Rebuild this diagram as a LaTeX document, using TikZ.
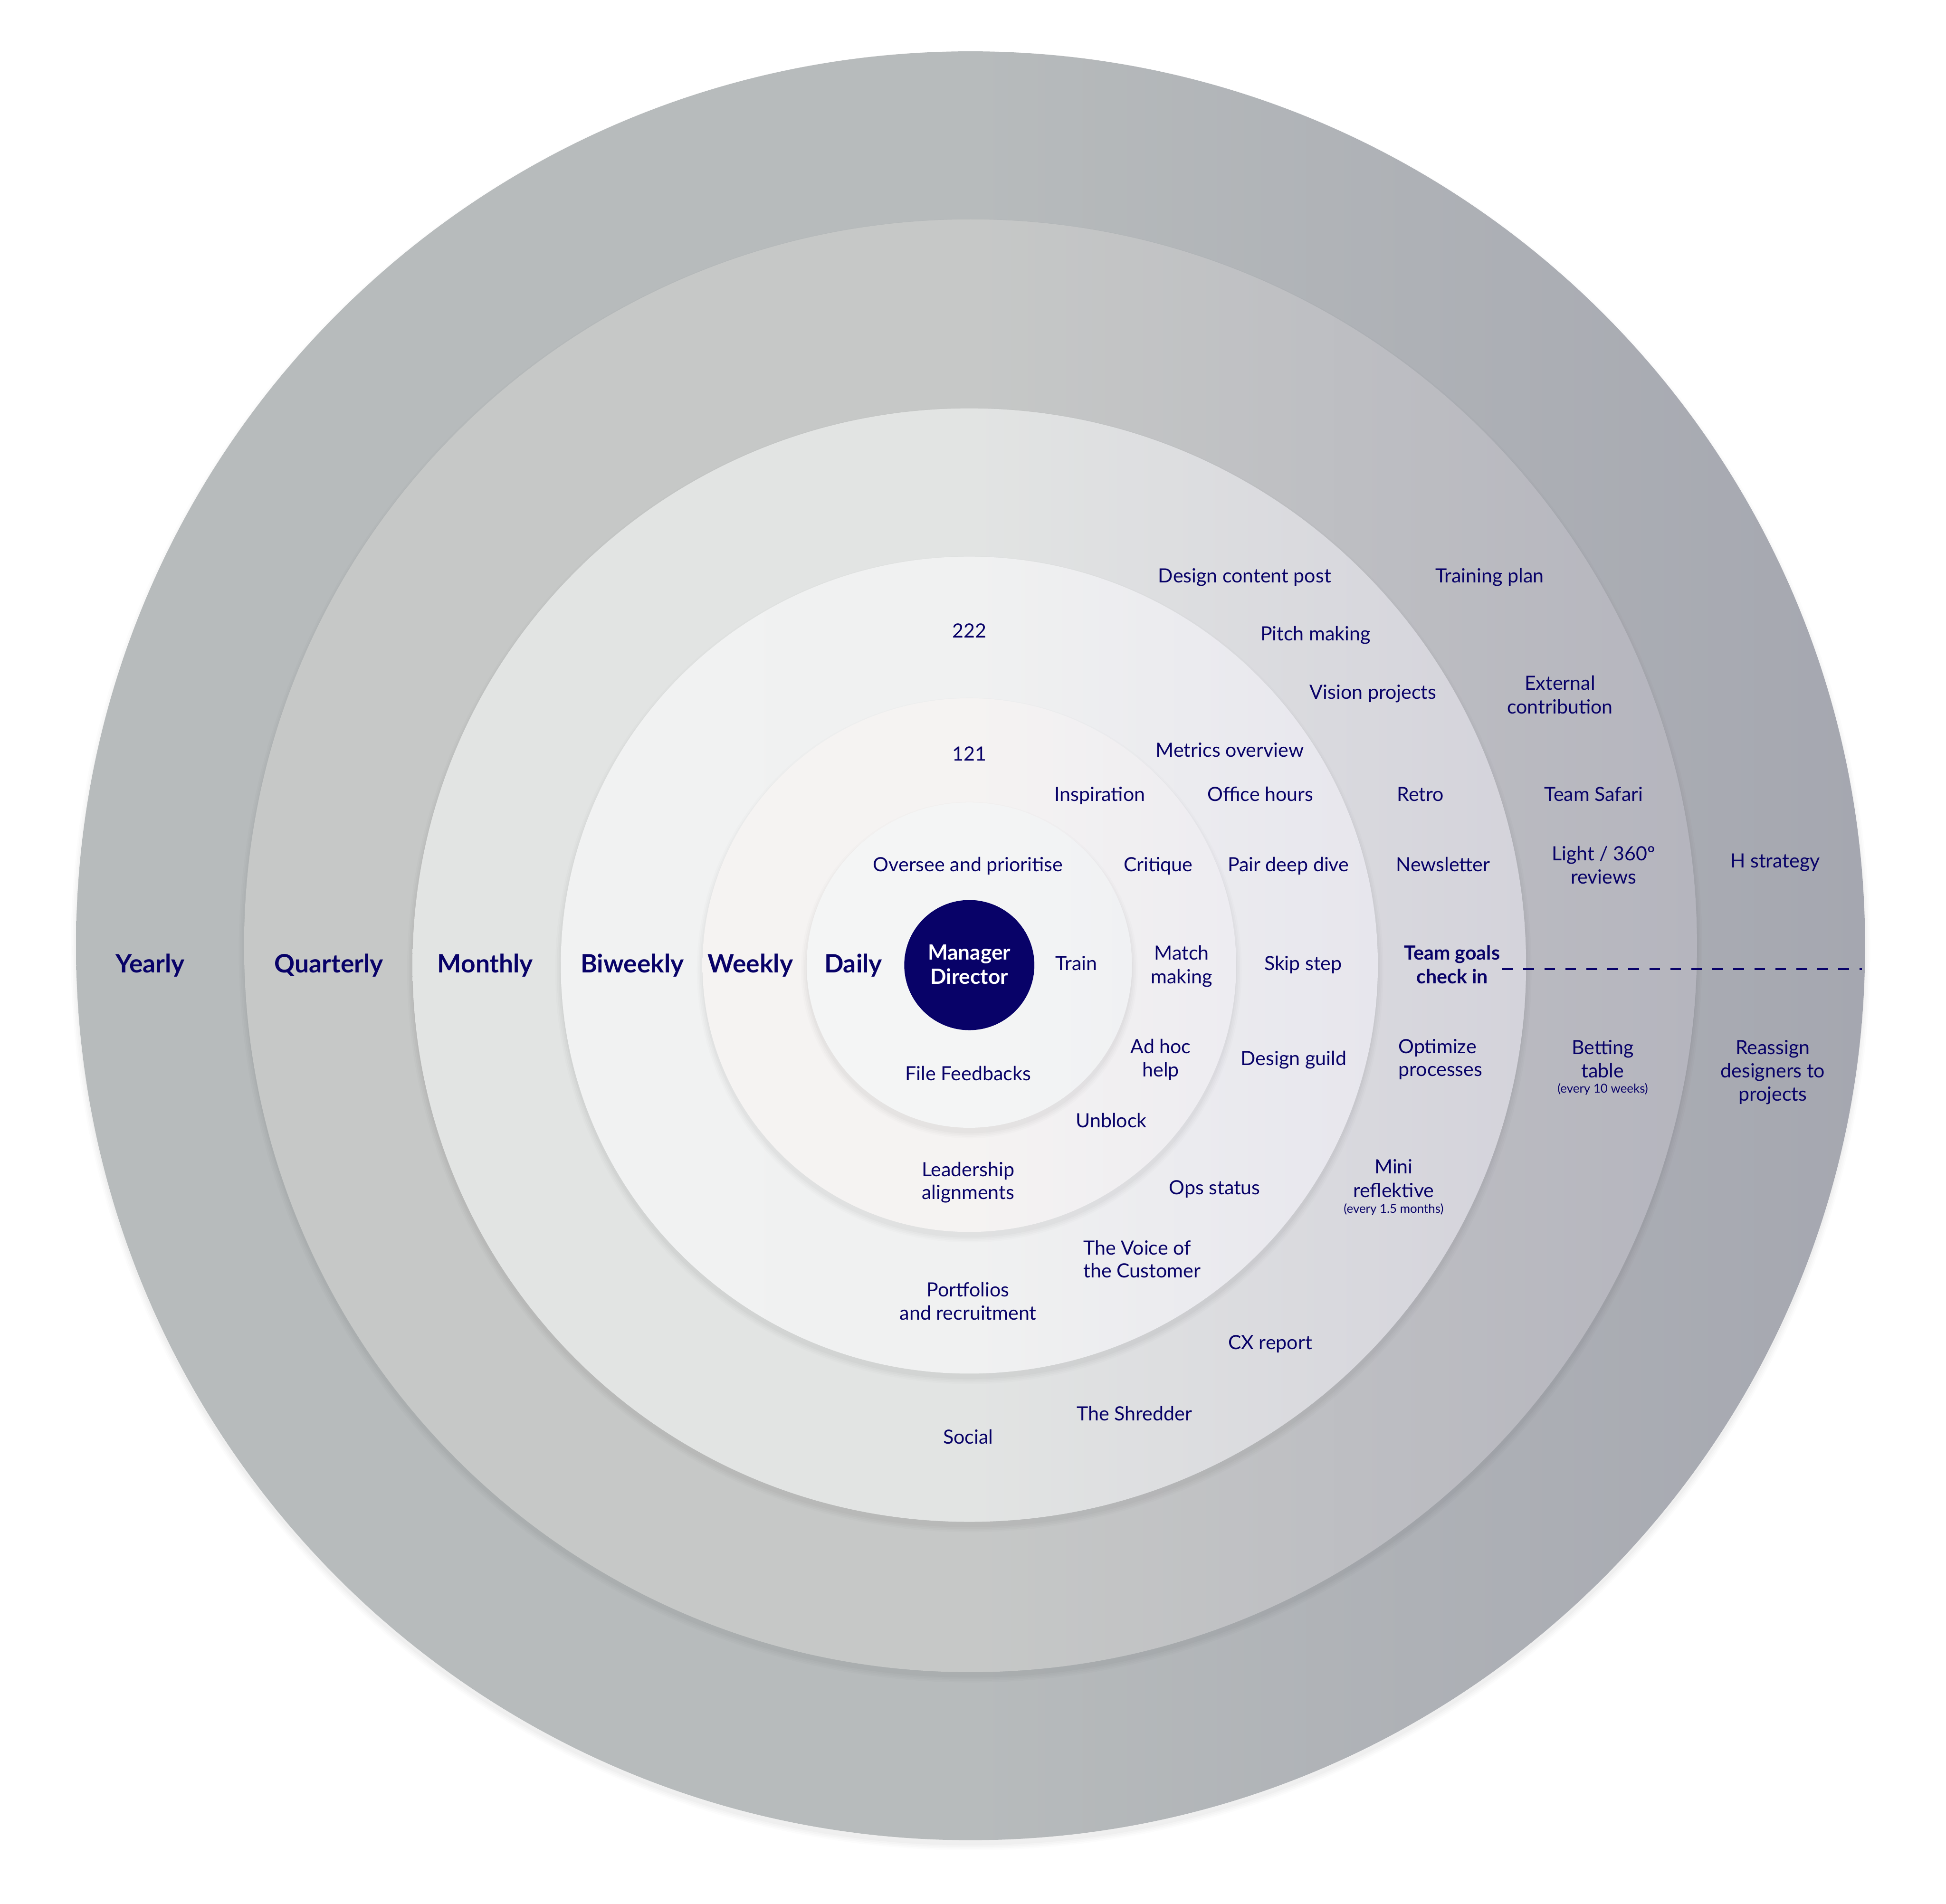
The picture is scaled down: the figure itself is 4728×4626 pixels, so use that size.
\documentclass[tikz,border=0pt]{standalone}
\usepackage{fontspec}
\setmainfont{Lato}
\definecolor{navy}{HTML}{080268}
\newcommand{\softshadow}[3]{% centre x, centre y, radius in px
  \foreach \k/\op in {14/0.012,10/0.014,6/0.016,2/0.018}{
    \fill[black, opacity=\op] (#1,#2+12) circle[radius=(#3+\k)*0.01cm];
  }}
\begin{document}
\begin{tikzpicture}[x=0.01cm,y=-0.01cm,
  t/.style={anchor=base, text=navy, inner sep=0pt, font=\fontsize{13.5}{16}\selectfont},
  tl/.style={t, anchor=base west},
  tb/.style={t, font=\bfseries\fontsize{13.5}{16}\selectfont},
  ringlbl/.style={anchor=base, text=navy, inner sep=0pt, font=\bfseries\fontsize{17.5}{21}\selectfont},
  tiny/.style={anchor=base, text=navy, inner sep=0pt, font=\fontsize{8.5}{10}\selectfont},
  dashline/.style={draw=navy, line width=0.05cm, dash pattern=on 0.26cm off 0.25cm}]
\useasboundingbox (0,0) rectangle (4728,4626);
% rings
\softshadow{2358}{2298}{2172}
\path[left color={rgb,255:red,183;green,187;blue,188}, right color={rgb,255:red,165;green,167;blue,176}, middle color={rgb,255:red,183;green,187;blue,188}] (2358,2298) circle[radius=21.72cm];
\softshadow{2358}{2298}{1764}
\path[left color={rgb,255:red,198;green,200;blue,199}, right color={rgb,255:red,181;green,181;blue,190}, middle color={rgb,255:red,198;green,200;blue,199}] (2358,2298) circle[radius=17.64cm];
\softshadow{2355}{2345}{1352}
\path[left color={rgb,255:red,226;green,228;blue,227}, right color={rgb,255:red,212;green,211;blue,219}, middle color={rgb,255:red,226;green,228;blue,227}] (2355,2345) circle[radius=13.52cm];
\softshadow{2355}{2345}{992}
\path[left color={rgb,255:red,241;green,242;blue,242}, right color={rgb,255:red,231;green,230;blue,237}, middle color={rgb,255:red,240;green,241;blue,241}] (2355,2345) circle[radius=9.92cm];
\softshadow{2355}{2345}{648}
\path[left color={rgb,255:red,245;green,243;blue,242}, right color={rgb,255:red,237;green,236;blue,241}, middle color={rgb,255:red,245;green,243;blue,242}] (2355,2345) circle[radius=6.48cm];
\softshadow{2355}{2345}{395}
\path[left color={rgb,255:red,244;green,245;blue,245}, right color={rgb,255:red,240;green,241;blue,243}, middle color={rgb,255:red,244;green,245;blue,245}] (2355,2345) circle[radius=3.95cm];
\fill[navy] (2355,2345) circle[radius=1.58cm];
% centre
\node[anchor=base, text=white, inner sep=0pt, font=\bfseries\fontsize{14.5}{17}\selectfont] (mgr) at (2355,2332) {Manager};
\node[anchor=base, text=white, inner sep=0pt, font=\bfseries\fontsize{14.5}{17}\selectfont] (dir) at (2355,2391) {Director};
% ring labels
\node[ringlbl] (yearly) at (365,2363) {Yearly};
\node[ringlbl] (quarterly) at (799,2363) {Quarterly};
\node[ringlbl] (monthly) at (1179,2363) {Monthly};
\node[ringlbl] (biweekly) at (1536,2363) {Biweekly};
\node[ringlbl] (weekly) at (1823,2363) {Weekly};
\node[ringlbl] (daily) at (2073,2363) {Daily};
% daily
\node[t] (oversee) at (2352,2117) {Oversee and prioritise};
\node[t] (filefb) at (2352,2625) {File Feedbacks};
\node[t] (train) at (2615,2358) {Train};
% weekly
\node[t] (n121) at (2355,1849) {121};
\node[t] (inspiration) at (2672,1947) {Inspiration};
\node[t] (critique) at (2814,2117) {Critique};
\node[t] (match1) at (2871,2332) {Match};
\node[t] (match2) at (2871,2390) {making};
\node[t] (adhoc1) at (2820,2560) {Ad hoc};
\node[t] (adhoc2) at (2820,2616) {help};
\node[t] (unblock) at (2700,2740) {Unblock};
\node[t] (lead1) at (2352,2858) {Leadership};
\node[t] (lead2) at (2352,2914) {alignments};
% biweekly
\node[t] (n222) at (2355,1550) {222};
\node[t] (metrics) at (2988,1839) {Metrics overview};
\node[t] (office) at (3062,1947) {Office hours};
\node[t] (pair) at (3130,2117) {Pair deep dive};
\node[t] (skip) at (3166,2358) {Skip step};
\node[t] (guild) at (3143,2589) {Design guild};
\node[t] (ops) at (2951,2902) {Ops status};
\node[tl] (voice1) at (2632,3049) {The Voice of};
\node[tl] (voice2) at (2632,3105) {the Customer};
\node[t] (port1) at (2352,3151) {Portfolios};
\node[t] (port2) at (2352,3207) {and recruitment};
% monthly
\node[t] (dcp) at (3024,1416) {Design content post};
\node[t] (pitch) at (3196,1557) {Pitch making};
\node[t] (vision) at (3336,1698) {Vision projects};
\node[t] (retro) at (3451,1947) {Retro};
\node[t] (news) at (3506,2117) {Newsletter};
\node[tb] (goals1) at (3528,2332) {Team goals};
\node[tb] (goals2) at (3528,2390) {check in};
\node[tl] (opt1) at (3397,2560) {Optimize};
\node[tl] (opt2) at (3397,2615) {processes};
\node[t] (mini1) at (3386,2852) {Mini};
\node[t] (mini2) at (3386,2909) {reflektive};
\node[tiny] (mini3) at (3386,2947) {(every 1.5 months)};
\node[t] (cx) at (3086,3279) {CX report};
\node[t] (shred) at (2756,3452) {The Shredder};
\node[t] (social) at (2352,3508) {Social};
% quarterly
\node[t] (training) at (3619,1416) {Training plan};
\node[t] (ext1) at (3790,1677) {External};
\node[t] (ext2) at (3790,1734) {contribution};
\node[t] (safari) at (3872,1947) {Team Safari};
\node[t] (light1) at (3896,2091) {Light / 360º};
\node[t] (light2) at (3896,2147) {reviews};
\node[t] (bet1) at (3894,2562) {Betting};
\node[t] (bet2) at (3894,2618) {table};
\node[tiny] (bet3) at (3894,2655) {(every 10 weeks)};
% yearly
\node[t] (hstrat) at (4313,2108) {H strategy};
\node[t] (reas1) at (4307,2562) {Reassign};
\node[t] (reas2) at (4307,2618) {designers to};
\node[t] (reas3) at (4307,2675) {projects};
% dashed line
\coordinate (dashA) at (3650,2355);
\coordinate (dashB) at (4524,2355);
\draw[dashline] (dashA) -- (dashB);
\end{tikzpicture}
\end{document}
